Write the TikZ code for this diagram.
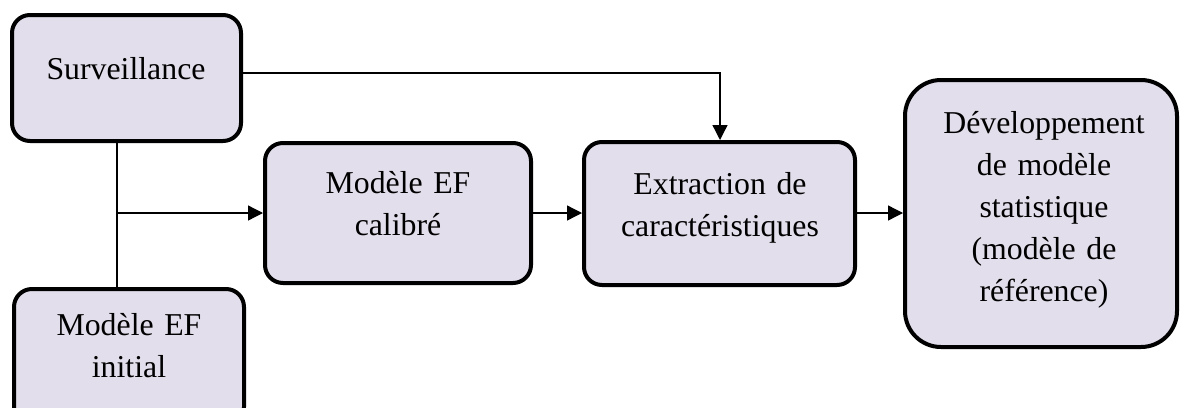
\documentclass[tikz,border=0pt]{standalone}
\usepackage{fontspec}
\setmainfont{Liberation Serif}
\usetikzlibrary{arrows.meta}
\definecolor{boxfill}{HTML}{E3DEEB}
\begin{document}
\begin{tikzpicture}[x=1pt,y=-1pt,
  box/.style={draw=black, line width=4pt, fill=boxfill, rounded corners=18pt, inner sep=0pt},
  txt/.style={font=\fontsize{31.8}{42}\selectfont, text width=300pt, align=center, anchor=base, inner sep=0pt},
  conn/.style={line width=1.3pt, -{Triangle[length=15pt,width=15pt]}},
  plain/.style={line width=1.3pt}]
\path[use as bounding box] (0,0) rectangle (1180,407);
\clip (0,0) rectangle (1180,407);
% boxes
\node[box, minimum width=229pt, minimum height=126pt] (surv) at (126.5,78) {};
\node[box, minimum width=230pt, minimum height=136pt] (init) at (129,357) {};
\node[box, minimum width=266pt, minimum height=140pt] (calib) at (398,213) {};
\node[box, minimum width=271pt, minimum height=143pt] (extr) at (719.5,213.5) {};
\node[box, rounded corners=36pt, minimum width=272pt, minimum height=267pt] (dev) at (1041,213.5) {};
% texts
\node[txt] (tsurv) at (126,79) {Surveillance};
\node[txt] (tinit) at (129,335) {Modèle EF\\initial};
\node[txt] (tcal) at (398,193) {Modèle EF\\calibré};
\node[txt] (textr) at (720,194) {Extraction de\\caractéristiques};
\node[txt] (tdev) at (1044,133) {Développement\\de modèle\\statistique\\(modèle de\\référence)};
% connectors
\coordinate (j) at (117,213);
\coordinate (k) at (720,73);
\draw[plain] (surv.south -| j) -- (init.north -| j);
\draw[conn] (j) -- (calib.west |- j);
\draw[conn] (surv.east |- k) -- (k) -- (extr.north -| k);
\draw[conn] (calib.east |- j) -- (extr.west |- j);
\draw[conn] (extr.east |- j) -- (dev.west |- j);
\end{tikzpicture}
\end{document}
